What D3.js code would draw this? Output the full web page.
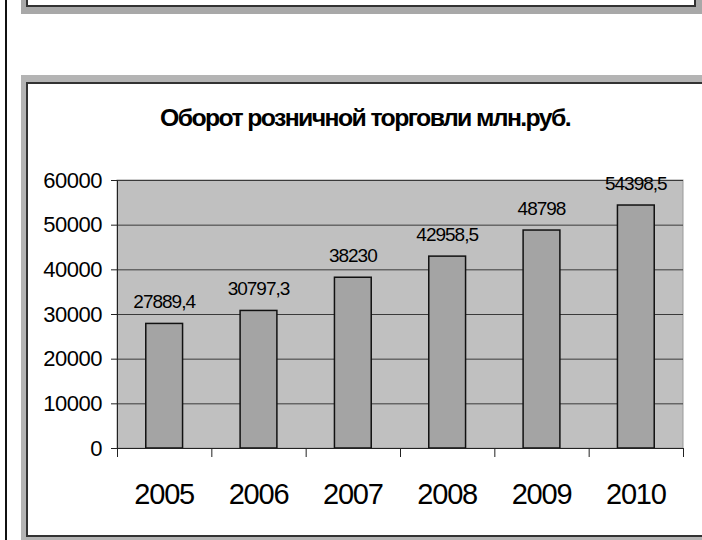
<!DOCTYPE html>
<html>
<head>
<meta charset="utf-8">
<script src="https://cdn.jsdelivr.net/npm/d3@7"></script>
<style>
  body { margin: 0; background: #fff; }
  svg { display: block; font-family: "Liberation Sans", Arial, sans-serif; }
</style>
</head>
<body>
<svg width="702" height="540"></svg>
<script>
let years = ["2005", "2006", "2007", "2008", "2009", "2010"];
let turnover = [27889.4, 30797.3, 38230, 42958.5, 48798, 54398.5];
let valueLabels = ["27889,4", "30797,3", "38230", "42958,5", "48798", "54398,5"];
let yTicks = [0, 10000, 20000, 30000, 40000, 50000, 60000];
let title = "Оборот розничной торговли млн.руб.";

let svg = d3.select("svg");

// left page line
svg.append("rect").attr("x", 5).attr("y", 0).attr("width", 2).attr("height", 540).attr("fill", "#111");

// upper frame (only its bottom is visible)
svg.append("rect").attr("x", 21).attr("y", -20).attr("width", 700).attr("height", 34).attr("fill", "#a8a8a8");
svg.append("rect").attr("x", 27).attr("y", -20).attr("width", 668).attr("height", 26)
    .attr("fill", "#fff").attr("stroke", "#333").attr("stroke-width", 2);

// chart frame
svg.append("rect").attr("x", 21).attr("y", 75).attr("width", 720).attr("height", 480).attr("fill", "#b4b4b4");
svg.append("rect").attr("x", 27).attr("y", 83).attr("width", 700).attr("height", 453)
    .attr("fill", "#fff").attr("stroke", "#333").attr("stroke-width", 2);

let plotLeft = 117, plotRight = 683, plotTop = 180, plotBottom = 448;

let x = d3.scaleBand().domain(years).range([plotLeft, plotRight]).paddingInner(0.61).paddingOuter(0.305);
let xb = d3.scaleBand().domain(years).range([plotLeft, plotRight]);
let y = d3.scaleLinear().domain([0, 60000]).range([plotBottom, plotTop]);

// plot area
svg.append("rect").attr("x", plotLeft).attr("y", plotTop).attr("width", plotRight - plotLeft).attr("height", plotBottom - plotTop)
    .attr("fill", "#c0c0c0").attr("stroke", "#9a9a9a");

// gridlines
svg.append("g").selectAll("line").data(yTicks.slice(1)).enter().append("line")
    .attr("x1", plotLeft).attr("x2", plotRight)
    .attr("y1", d => y(d) + 0.5).attr("y2", d => y(d) + 0.5)
    .attr("stroke", "#3a3a3a").attr("stroke-width", 1);

// bars
svg.append("g").selectAll("rect").data(turnover).enter().append("rect")
    .attr("x", (d, i) => x(years[i]))
    .attr("y", d => y(d))
    .attr("width", x.bandwidth())
    .attr("height", d => plotBottom - y(d))
    .attr("fill", "#a4a4a4").attr("stroke", "#111").attr("stroke-width", 1.5);

// value labels
svg.append("g").selectAll("text").data(turnover).enter().append("text")
    .attr("x", (d, i) => x(years[i]) + x.bandwidth() / 2)
    .attr("y", d => y(d) - 15)
    .attr("text-anchor", "middle")
    .attr("font-size", 19)
    .attr("letter-spacing", -1)
    .attr("fill", "#000")
    .text((d, i) => valueLabels[i]);

// y axis
let yAxis = svg.append("g").attr("transform", "translate(" + plotLeft + ",0)")
    .call(d3.axisLeft(y).tickValues(yTicks).tickSize(6).tickPadding(9).tickFormat(d3.format("d")));
yAxis.select(".domain").attr("stroke", "#222");
yAxis.selectAll(".tick line").attr("stroke", "#222");
yAxis.selectAll("text").attr("font-size", 22).attr("letter-spacing", -0.5).attr("fill", "#000")
    .attr("font-family", "Liberation Sans, Arial, sans-serif");

// x axis with ticks at category boundaries
svg.append("line").attr("x1", plotLeft).attr("x2", plotRight).attr("y1", plotBottom + 0.5).attr("y2", plotBottom + 0.5)
    .attr("stroke", "#222");
svg.append("g").selectAll("line").data(years.concat(["end"])).enter().append("line")
    .attr("x1", (d, i) => plotLeft + i * xb.step() + 0.5)
    .attr("x2", (d, i) => plotLeft + i * xb.step() + 0.5)
    .attr("y1", plotBottom).attr("y2", plotBottom + 9)
    .attr("stroke", "#222");
svg.append("g").selectAll("text").data(years).enter().append("text")
    .attr("x", d => xb(d) + xb.bandwidth() / 2)
    .attr("y", 504)
    .attr("text-anchor", "middle")
    .attr("font-size", 29)
    .attr("letter-spacing", -1.2)
    .attr("fill", "#000")
    .text(d => d);

// title
svg.append("text")
    .attr("x", 365).attr("y", 126)
    .attr("text-anchor", "middle")
    .attr("font-size", 23)
    .attr("font-weight", "bold")
    .attr("letter-spacing", -1.5)
    .attr("textLength", 410)
    .attr("lengthAdjust", "spacingAndGlyphs")
    .text(title);
</script>
</body>
</html>
